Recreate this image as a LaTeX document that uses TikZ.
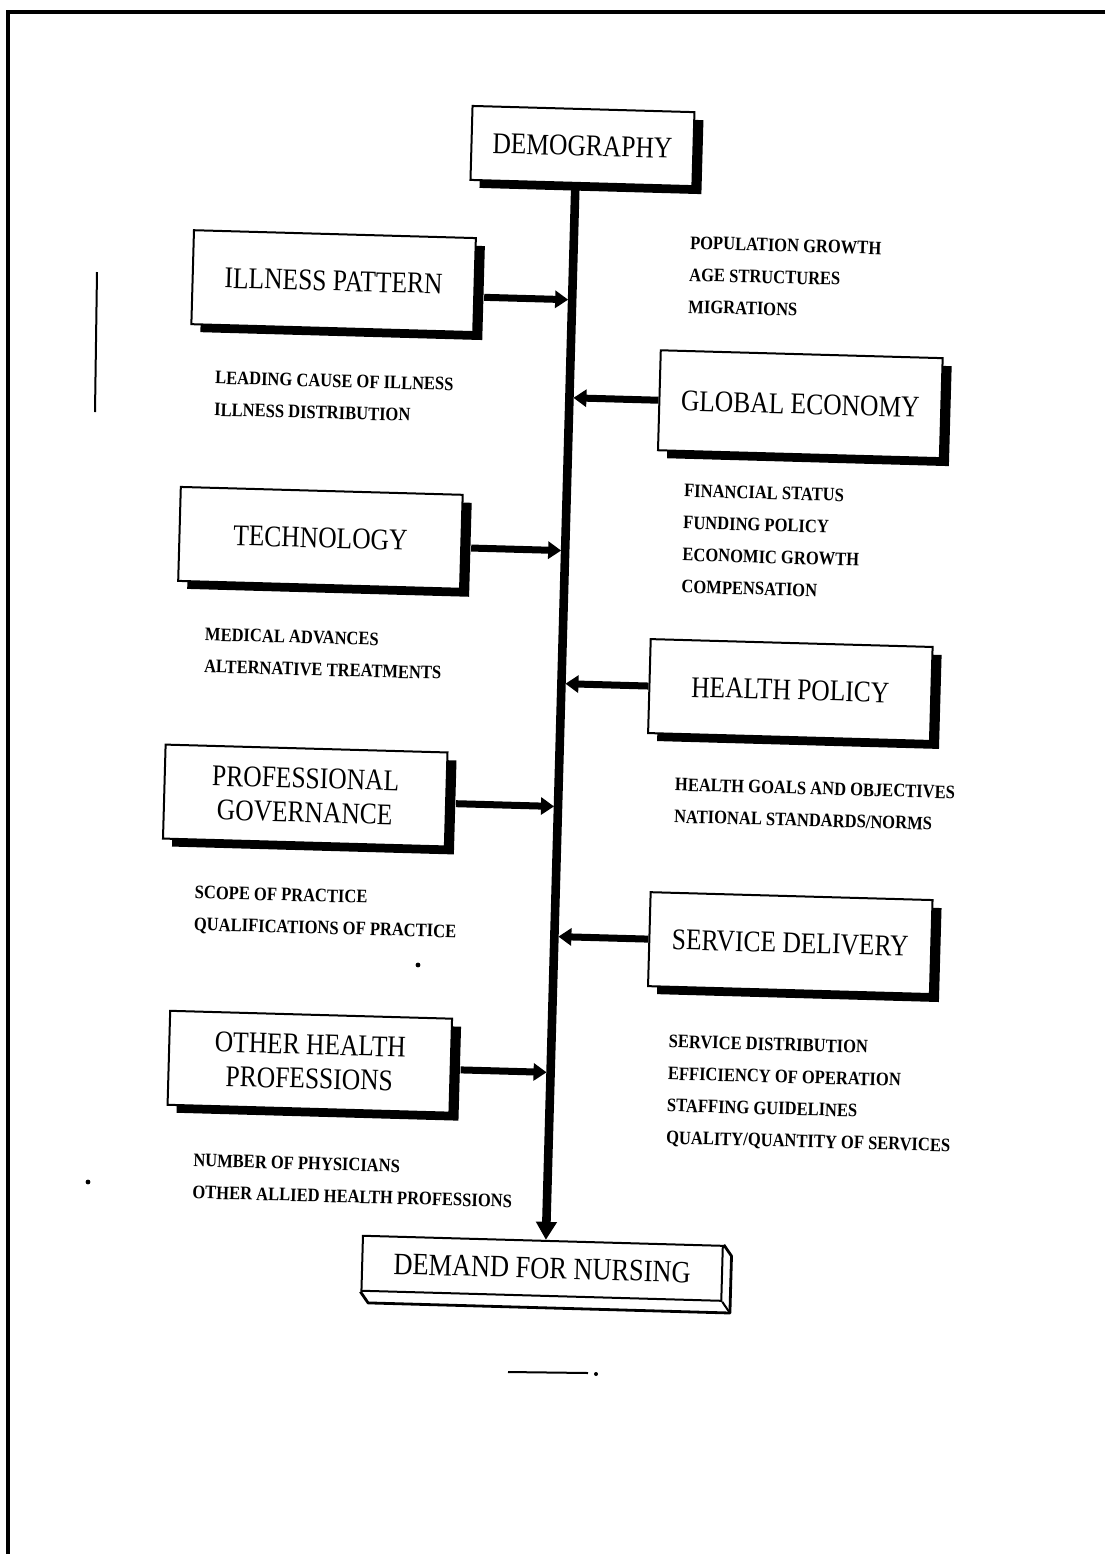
\documentclass[tikz,border=0pt]{standalone}
\usepackage{fontspec}
\setmainfont{Liberation Serif}
\newfontfamily\boxfont[FakeStretch=0.85]{Liberation Serif}
\newfontfamily\notefont[FakeStretch=0.87]{Liberation Serif}
\usetikzlibrary{arrows.meta,shadows}

\begin{document}
\begin{tikzpicture}[x=0.5pt,y=-0.5pt,
	factor/.style={rectangle, draw, line width=1pt, fill=white, minimum width=141pt, minimum height=47pt, align=center, inner sep=2pt, font=\boxfont\fontsize{15}{17}\selectfont, drop shadow={shadow xshift=4.5pt, shadow yshift=-4pt, fill=black, opacity=1}},
	note/.style={anchor=north west, align=left, inner sep=0pt, font=\notefont\bfseries\fontsize{9.5}{16}\selectfont},
	feed/.style={line width=3.5pt, shorten >=2pt, -{Triangle[length=6.5pt,width=8.5pt]}}]
	\useasboundingbox (0,0) rectangle (1105,1554);
	% Page frame and scan marks
	\draw[line width=2pt] (1105,12) -- (8,12) -- (8,1554);
	\draw[line width=1pt] (97,272) -- (95,412);
	\draw[line width=1pt] (508,1372) -- (588,1373);
	\fill (596,1374) circle (1pt);
	\fill (418,965) circle (1.2pt);
	\fill (88,1182) circle (1.2pt);
	\begin{scope}[rotate around={-1.6:(575,700)}, transform shape]
		\coordinate (axis) at (561,0);
		% Top and bottom
		\node[factor, minimum width=111pt, minimum height=37pt] (demo) at (567,146) {DEMOGRAPHY};
		\node[rectangle, draw, line width=1pt, fill=white, minimum width=180pt, minimum height=27.5pt, font=\boxfont\fontsize{15.5}{15.5}\selectfont] (demand) at (558,1269) {DEMAND FOR NURSING};
		\draw[line width=1.4pt, line join=round] (demand.south west) -- ([shift={(4pt,-5.5pt)}]demand.south west) -- ([shift={(4pt,-5.5pt)}]demand.south east) -- ([shift={(4pt,-5.5pt)}]demand.north east) -- (demand.north east);
		\draw[line width=1pt] (demand.south east) -- ([shift={(4pt,-5.5pt)}]demand.south east);
		% Left factors
		\node[factor] (ill) at (322,288) {ILLNESS PATTERN};
		\node[factor] (tech) at (316,545) {TECHNOLOGY};
		\node[factor] (prof) at (308,803) {PROFESSIONAL\\GOVERNANCE};
		\node[factor] (other) at (320,1069) {OTHER HEALTH\\PROFESSIONS};
		% Right factors
		\node[factor, minimum height=50pt] (glob) at (792,398) {GLOBAL ECONOMY};
		\node[factor] (pol) at (790,684) {HEALTH POLICY};
		\node[factor] (serv) at (797,937) {SERVICE DELIVERY};
		% Notes
		\node[note] (demo list) at (677,233) {POPULATION GROWTH\\AGE STRUCTURES\\MIGRATIONS};
		\node[note] (ill list) at (206,381) {LEADING CAUSE OF ILLNESS\\ILLNESS DISTRIBUTION};
		\node[note] (glob list) at (678,481) {FINANCIAL STATUS\\FUNDING POLICY\\ECONOMIC GROWTH\\COMPENSATION};
		\node[note] (tech list) at (203,638) {MEDICAL ADVANCES\\ALTERNATIVE TREATMENTS};
		\node[note] (pol list) at (677,775) {HEALTH GOALS AND OBJECTIVES\\NATIONAL STANDARDS/NORMS};
		\node[note] (prof list) at (200,896) {SCOPE OF PRACTICE\\QUALIFICATIONS OF PRACTICE};
		\node[note] (serv list) at (678,1032) {SERVICE DISTRIBUTION\\EFFICIENCY OF OPERATION\\STAFFING GUIDELINES\\QUALITY/QUANTITY OF SERVICES};
		\node[note] (other list) at (206,1164) {NUMBER OF PHYSICIANS\\OTHER ALLIED HEALTH PROFESSIONS};
		% Spine
		\draw[line width=4.3pt, -{Triangle[length=9pt,width=10pt]}] (demo.south -| axis) -- (demand.north -| axis);
		% Connections
		\draw[feed] ([shift={(4.5pt,-6pt)}]ill.east) -- ([yshift=-6pt]ill.east -| axis);
		\draw[feed] ([shift={(4.5pt,-3pt)}]tech.east) -- ([yshift=-3pt]tech.east -| axis);
		\draw[feed] ([shift={(4.5pt,-2pt)}]prof.east) -- ([yshift=-2pt]prof.east -| axis);
		\draw[feed] ([shift={(4.5pt,-2pt)}]other.east) -- ([yshift=-2pt]other.east -| axis);
		\draw[feed] (glob.west) -- (glob.west -| axis);
		\draw[feed] (pol.west) -- (pol.west -| axis);
		\draw[feed] (serv.west) -- (serv.west -| axis);
	\end{scope}
\end{tikzpicture}
\end{document}
